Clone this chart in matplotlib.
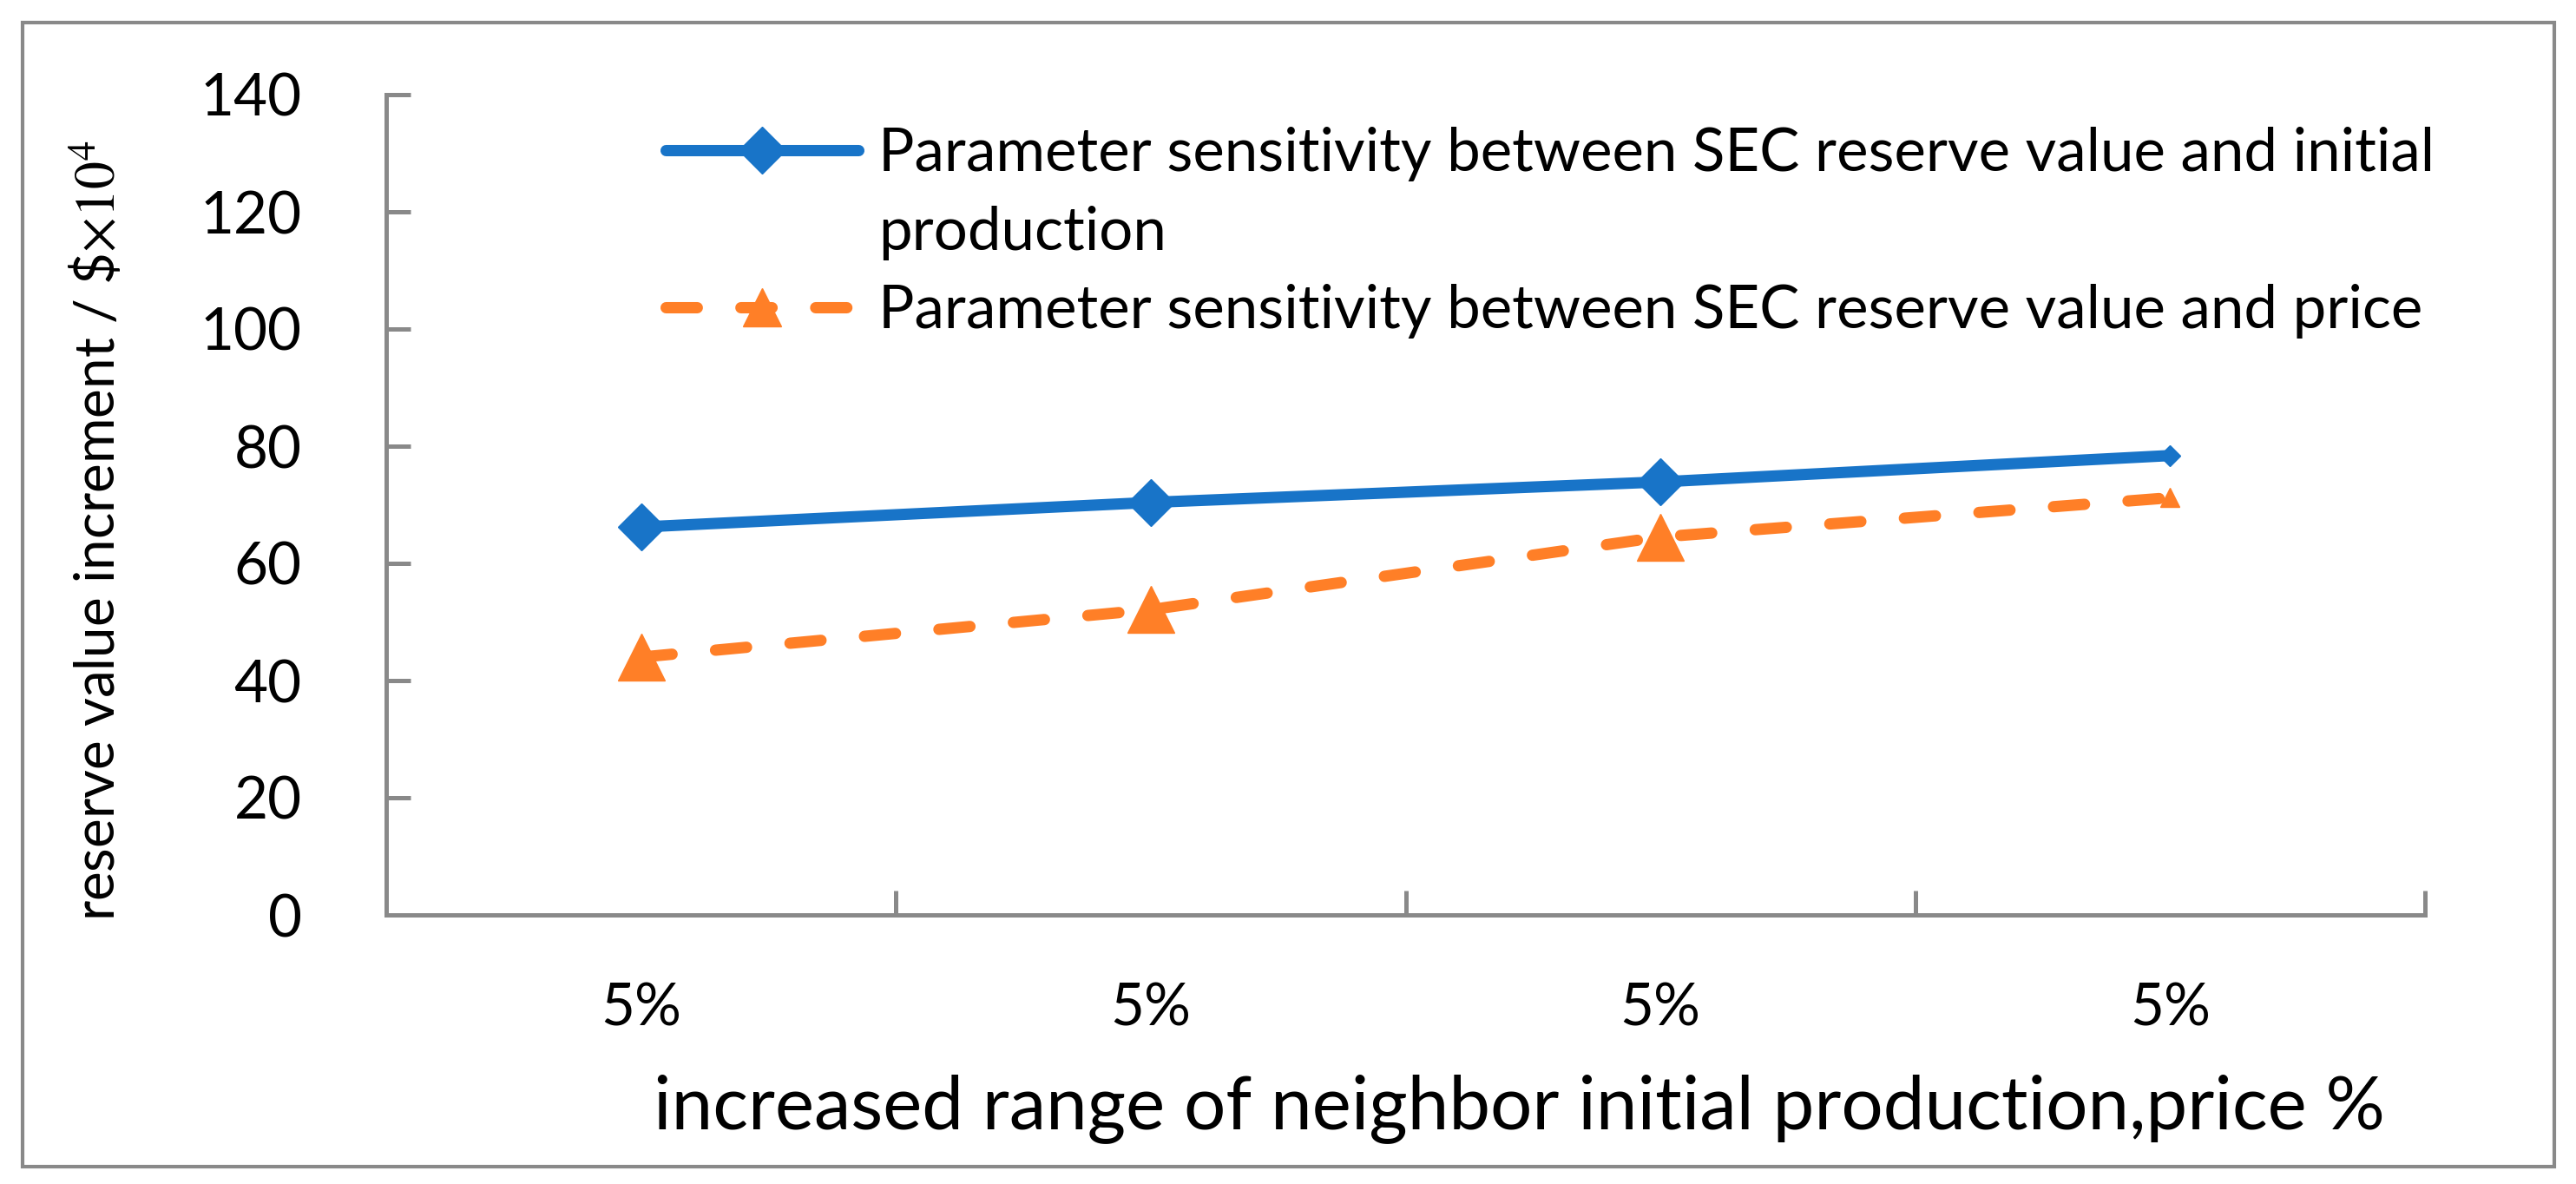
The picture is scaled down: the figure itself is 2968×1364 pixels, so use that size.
import matplotlib
matplotlib.use('Agg')
import matplotlib.pyplot as plt
from matplotlib.lines import Line2D
from matplotlib.patches import Rectangle

# ---------------- data ----------------
categories = ['5%', '5%', '5%', '5%']
sec_vs_initial_production = [66.2, 70.4, 73.9, 78.4]
sec_vs_price = [44.0, 52.1, 64.5, 71.2]
y_ticks = [0, 20, 40, 60, 80, 100, 120, 140]
label_initial_line1 = 'Parameter sensitivity between SEC reserve value and initial'
label_initial_line2 = 'production'
label_price = 'Parameter sensitivity between SEC reserve value and price'
x_title = 'increased range of neighbor initial production,price %'
y_title = r'reserve value increment / \$$\times10^{4}$'

# ---------------- style ----------------
W, H, DPI = 2968, 1364, 100
BLUE = '#1874c8'
ORANGE = '#ff7f27'
GREY = '#898989'
plt.rcParams['font.family'] = ['Lato', 'DejaVu Sans']
plt.rcParams['mathtext.fontset'] = 'stix'

fig = plt.figure(figsize=(W / DPI, H / DPI), dpi=DPI)
fig.patch.set_facecolor('white')

# outer frame
fig.add_artist(Rectangle((26 / W, 1 - 1344 / H), (2943 - 26) / W, (1344 - 26) / H,
                         transform=fig.transFigure, fill=False, edgecolor=GREY, lw=3))

ax = fig.add_axes([445 / W, 1 - 1054 / H, (2794 - 445) / W, (1054 - 109) / H])
n = len(categories)
xs = [i + 0.5 for i in range(n)]

lw = 9.4
ax.plot(xs, sec_vs_initial_production, color=BLUE, lw=lw, solid_capstyle='round',
        marker='D', ms=28, markevery=list(range(n - 1)), zorder=3)
ax.plot(xs[-1:], sec_vs_initial_production[-1:], ls='none', color=BLUE,
        marker='D', ms=12, zorder=3)
ax.plot(xs, sec_vs_price, color=ORANGE, lw=lw, dash_capstyle='round',
        dashes=(2.75, 3.85), marker='^', ms=39, markevery=list(range(n - 1)), zorder=3)
ax.plot(xs[-1:], sec_vs_price[-1:], ls='none', color=ORANGE,
        marker='^', ms=16, zorder=3)

ax.set_xlim(0, n)
ax.set_ylim(y_ticks[0], y_ticks[-1])
ax.set_yticks(y_ticks)
ax.set_xticks(xs)
ax.set_xticklabels(categories)
ax.set_xticks(list(range(1, n + 1)), minor=True)

for s in ['top', 'right']:
    ax.spines[s].set_visible(False)
for s in ['left', 'bottom']:
    ax.spines[s].set_color(GREY)
    ax.spines[s].set_linewidth(3.6)

ax.tick_params(axis='y', which='major', direction='in', length=20, width=3.6,
               color=GREY, pad=70, labelsize=52)
ax.tick_params(axis='x', which='major', length=0, pad=56, labelsize=52)
ax.tick_params(axis='x', which='minor', direction='in', length=20, width=3.6, color=GREY)

# axis titles
yt = fig.text(112 / W, 1 - 611 / H, y_title, rotation=90, ha='center', va='center',
              fontsize=48)
xt = fig.text(1750 / W, 1 - 1300 / H, x_title, ha='center', va='baseline', fontsize=60)

# legend (proxy handles)
h1 = Line2D([], [], color=BLUE, lw=lw, solid_capstyle='round', marker='D', ms=28)
h_blank = Line2D([], [], color='none', lw=0)
h2 = Line2D([], [], color=ORANGE, lw=lw, dash_capstyle='round', dashes=(2.75, 3.85),
            marker='^', ms=32)


def make_legend(fs, anchor, spacing):
    return ax.legend([h1, h_blank, h2], [label_initial_line1, label_initial_line2, label_price],
                     loc='upper left', bbox_to_anchor=anchor, bbox_transform=fig.transFigure,
                     frameon=False, fontsize=fs, borderpad=0, borderaxespad=0,
                     handlelength=222 / (fs * DPI / 72), handletextpad=23 / (fs * DPI / 72),
                     labelspacing=spacing, markerscale=1.0)


fs = 50
anchor = (767 / W, 1 - 130 / H)
spacing = 0.3
leg = make_legend(fs, anchor, spacing)

fig.canvas.draw()
r = fig.canvas.get_renderer()

# fit text sizes to reference widths
w140 = ax.get_yticklabels()[-1].get_window_extent(r).width
ax.tick_params(axis='both', which='major', labelsize=52 * 117 / w140)
yt.set_fontsize(yt.get_fontsize() * 898 / yt.get_window_extent(r).height)
xt.set_fontsize(xt.get_fontsize() * 1995 / xt.get_window_extent(r).width)
fs = fs * 1793 / leg.get_texts()[0].get_window_extent(r).width
leg.remove()
leg = make_legend(fs, anchor, spacing)
fig.canvas.draw()

# adjust legend spacing and position so rows match reference
t0 = leg.get_texts()[0].get_window_extent(r)
t2 = leg.get_texts()[2].get_window_extent(r)
pitch = (t0.y0 - t2.y0) / 2.0
fs_px = fs * DPI / 72
spacing = spacing + (90.5 - pitch) / fs_px
leg.remove()
leg = make_legend(fs, anchor, spacing)
fig.canvas.draw()
hb = leg.legend_handles[0].get_window_extent(r)
cy = (hb.y0 + hb.y1) / 2
dy = (H - 173) - cy
hb_x0 = leg.get_texts()[0].get_window_extent(r).x0
dx = 1012 - hb_x0
anchor = (anchor[0] + dx / W, anchor[1] + dy / H)
leg.remove()
leg = make_legend(fs, anchor, spacing)

fig.savefig('out.png', dpi=DPI, facecolor='white')
